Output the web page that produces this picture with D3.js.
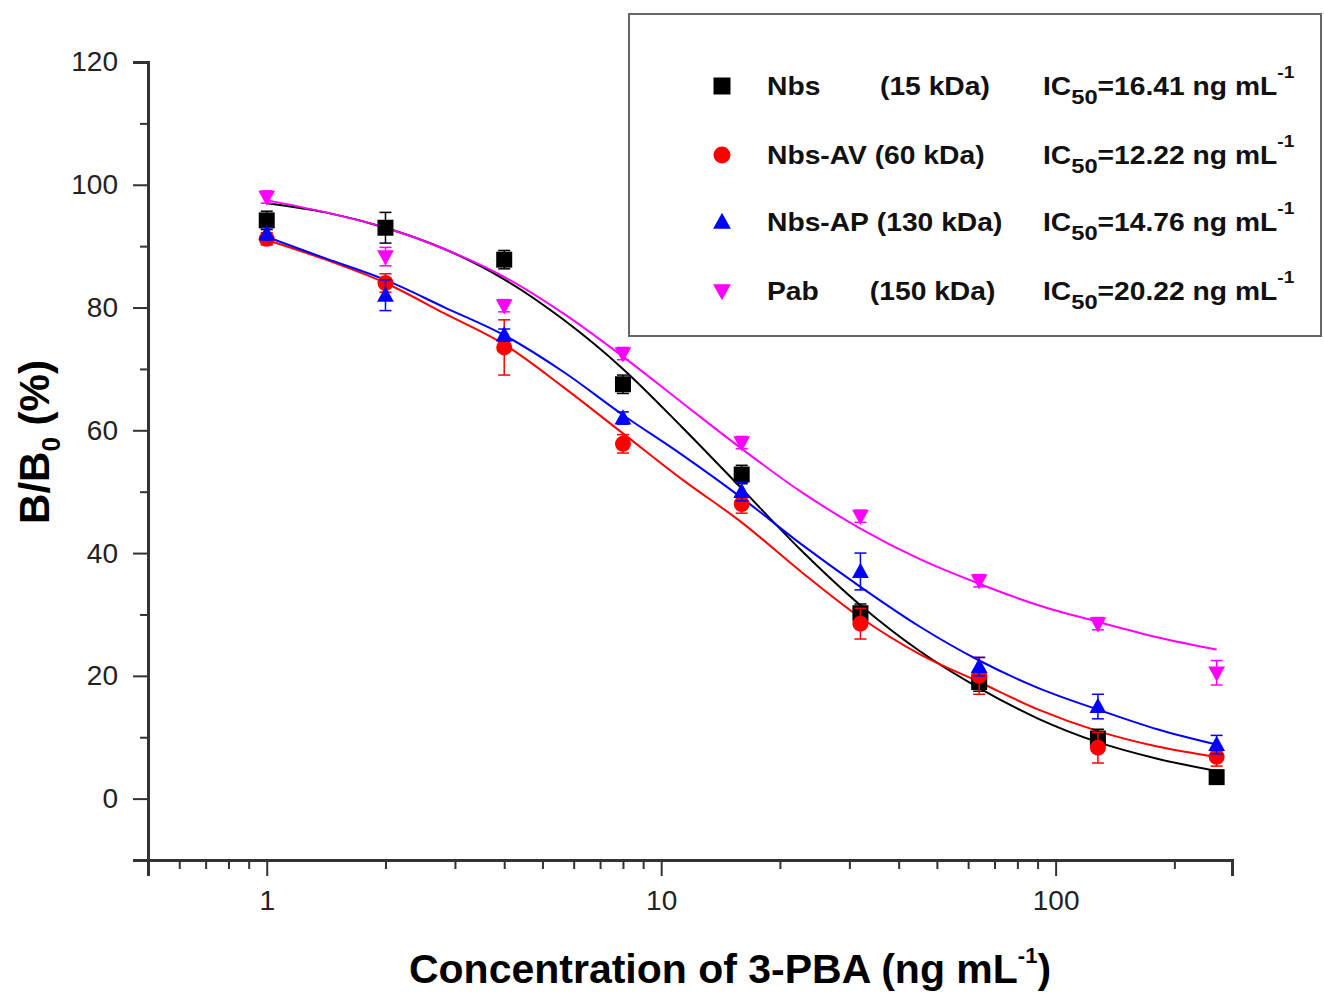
<!DOCTYPE html>
<html lang="en">
<head>
<meta charset="UTF-8">
<title>B/B0 curves</title>
<script src="https://d3js.org/d3.v7.min.js"></script>
<style>
    body { margin: 0; background: #fff; }
    text { font-family: "Liberation Sans", Arial, sans-serif; }
    .curve { fill: none; stroke-width: 2; }
</style>
</head>
<body>
<script>
    // concentrations (ng/mL)
    var conc = [1, 2, 4, 8, 16, 32, 64, 128, 256];
    var names = ["Nbs", "Nbs-AV", "Nbs-AP", "Pab"];
    var kda = ["(15 kDa)", "(60 kDa)", "(130 kDa)", "(150 kDa)"];
    var ic50 = ["16.41", "12.22", "14.76", "20.22"];
    var colors = ["#000000", "#ff0000", "#0000ff", "#ff00ff"];
    var shapes = ["square", "circle", "triangle", "triangleDown"];

    // measured points (%)
    var nbs = [94.2, 93.0, 87.8, 67.5, 52.8, 30.2, 19.0, 9.8, 3.5];
    var nbsAV = [91.2, 84.0, 73.5, 57.8, 48.0, 28.5, 20.0, 8.3, 6.8];
    var nbsAP = [92.0, 82.0, 75.5, 62.0, 50.0, 37.0, 21.5, 15.0, 8.8];
    var pab = [98.0, 88.3, 80.3, 72.5, 58.0, 46.0, 35.5, 28.5, 20.5];
    // error bars
    var nbsErr = [1.5, 2.5, 1.5, 1.5, 1.5, 1.5, 1.5, 1.5, 1.0];
    var nbsAVErr = [1.0, 1.5, 4.5, 1.5, 1.5, 2.5, 3.0, 2.5, 1.5];
    var nbsAPErr = [1.0, 2.5, 1.0, 1.0, 1.5, 3.0, 1.5, 2.0, 1.5];
    var pabErr = [1.0, 1.5, 1.0, 1.0, 1.0, 1.0, 1.0, 1.0, 2.0];

    // fitted curves
    var fitX = [1, 1.41, 2, 2.83, 4, 5.66, 8, 11.3, 16, 22.6, 32, 45.3, 64, 90.5, 128, 181, 256];
    var nbsFit = [97, 95.5, 93, 89.5, 84.6, 78, 70, 60.5, 50.5, 40.5, 31.5, 24, 18, 13, 9.2, 6.5, 4.5];
    var nbsAVFit = [91, 87.8, 84, 79, 74, 67, 59.5, 52, 45, 37, 29.5, 23.5, 19, 14.5, 11, 8.5, 6.8];
    var nbsAPFit = [91.5, 88, 84.5, 80, 75.5, 69.5, 62.5, 56, 49, 41.5, 34.5, 28, 22.5, 18, 14.5, 11.3, 8.8];
    var pabFit = [97.5, 95.5, 93, 89.5, 85, 79, 72, 64.5, 57, 50, 44, 39, 35, 31.5, 28.8, 26.3, 24.3];

    var yMajor = [0, 20, 40, 60, 80, 100, 120];
    var yMinor = [10, 30, 50, 70, 90, 110];
    var xMajor = [1, 10, 100];
    var xMinor = [0.6, 0.7, 0.8, 0.9, 2, 3, 4, 5, 6, 7, 8, 9, 20, 30, 40, 50, 60, 70, 80, 90, 200];

    var series = [
        { pts: nbs, err: nbsErr, fit: nbsFit },
        { pts: nbsAV, err: nbsAVErr, fit: nbsAVFit },
        { pts: nbsAP, err: nbsAPErr, fit: nbsAPFit },
        { pts: pab, err: pabErr, fit: pabFit }
    ];

    var W = 1324, H = 994;
    var svg = d3.select("body").append("svg").attr("width", W).attr("height", H);

    var x = d3.scaleLog().domain([0.5, 280]).range([148, 1232]);
    var y = d3.scaleLinear().domain([-10, 120]).range([860, 62]);

    var axisColor = "#333";

    // y axis
    var gy = svg.append("g").attr("transform", "translate(148,0)");
    gy.call(d3.axisLeft(y).tickValues(yMajor).tickSize(15).tickPadding(15).tickFormat(d3.format("d")));
    gy.append("g").call(d3.axisLeft(y).tickValues(yMinor).tickSize(8).tickFormat(""));
    // x axis
    var gx = svg.append("g").attr("transform", "translate(0,860)");
    gx.call(d3.axisBottom(x).tickValues(xMajor).tickSize(16).tickPadding(14).tickFormat(d3.format("d")));
    gx.append("g").call(d3.axisBottom(x).tickValues(xMinor).tickSize(9).tickFormat(""));

    svg.selectAll(".domain").attr("stroke", axisColor).attr("stroke-width", 3);
    svg.selectAll(".tick line").attr("stroke", axisColor).attr("stroke-width", 2);
    svg.selectAll(".tick text").attr("font-size", 28).attr("fill", "#222")
        .attr("font-family", "'Liberation Sans', Arial, sans-serif");
    svg.selectAll("g > g > .domain").remove();

    // axis titles
    var yt = svg.append("text")
        .attr("transform", "translate(49,442) rotate(-90)")
        .attr("text-anchor", "middle")
        .attr("font-size", 42).attr("font-weight", "bold");
    yt.append("tspan").text("B/B");
    yt.append("tspan").text("0").attr("font-size", 26).attr("dy", 11);
    yt.append("tspan").text(" (%)").attr("dy", -11);

    var xt = svg.append("text")
        .attr("x", 730).attr("y", 983)
        .attr("text-anchor", "middle")
        .attr("font-size", 41).attr("font-weight", "bold");
    xt.append("tspan").text("Concentration of 3-PBA (ng mL");
    xt.append("tspan").text("-1").attr("font-size", 22).attr("dy", -20);
    xt.append("tspan").text(")").attr("dy", 20);

    // fitted curves
    var line = d3.line()
        .x(function (d) { return x(d[0]); })
        .y(function (d) { return y(d[1]); })
        .curve(d3.curveMonotoneX);

    series.forEach(function (s, i) {
        svg.append("path").attr("class", "curve")
            .attr("stroke", colors[i])
            .attr("d", line(fitX.map(function (v, k) { return [v, s.fit[k]]; })));
    });

    function markerPath(shape, size) {
        var h = size / 2;
        if (shape === "square") return "M" + (-h) + "," + (-h) + "h" + size + "v" + size + "h" + (-size) + "Z";
        if (shape === "circle") return d3.symbol(d3.symbolCircle, Math.PI * h * h)();
        if (shape === "triangle") return "M0," + (-h * 1.1) + "L" + (h * 1.05) + "," + (h * 0.8) + "L" + (-h * 1.05) + "," + (h * 0.8) + "Z";
        return "M0," + (h * 1.1) + "L" + (h * 1.05) + "," + (-h * 0.8) + "L" + (-h * 1.05) + "," + (-h * 0.8) + "Z";
    }

    // error bars and points
    series.forEach(function (s, i) {
        var g = svg.append("g");
        conc.forEach(function (c, k) {
            var cx = x(c), v = s.pts[k], e = s.err[k];
            g.append("line").attr("x1", cx).attr("x2", cx)
                .attr("y1", y(v - e)).attr("y2", y(v + e))
                .attr("stroke", colors[i]).attr("stroke-width", 1.5);
            [v - e, v + e].forEach(function (b) {
                g.append("line").attr("x1", cx - 6).attr("x2", cx + 6)
                    .attr("y1", y(b)).attr("y2", y(b))
                    .attr("stroke", colors[i]).attr("stroke-width", 1.5);
            });
            g.append("path")
                .attr("transform", "translate(" + cx + "," + y(v) + ")")
                .attr("d", markerPath(shapes[i], 16))
                .attr("fill", colors[i]);
        });
    });

    // legend
    var lg = svg.append("g");
    lg.append("rect").attr("x", 629).attr("y", 14).attr("width", 692).attr("height", 322)
        .attr("fill", "#fff").attr("stroke", "#666").attr("stroke-width", 2);
    var rowY = [86, 155, 222, 291];
    var stretch = "scale(1.13,1)";
    names.forEach(function (n, i) {
        var ry = rowY[i];
        lg.append("path").attr("transform", "translate(722," + ry + ")")
            .attr("d", markerPath(shapes[i], 17)).attr("fill", colors[i]);

        var t1 = lg.append("g").attr("transform", "translate(767," + (ry + 9) + ") " + stretch)
            .append("text").attr("font-size", 25).attr("font-weight", "bold").attr("fill", "#111");
        t1.append("tspan").attr("x", 0).text(n);
        if (i === 0) t1.append("tspan").attr("x", 100).text(kda[i]);
        else if (i === 3) t1.append("tspan").attr("x", 91).text(kda[i]);
        else t1.append("tspan").text(" " + kda[i]);

        var it = lg.append("g").attr("transform", "translate(1043," + (ry + 9) + ") " + stretch)
            .append("text").attr("font-size", 25).attr("font-weight", "bold").attr("fill", "#111");
        it.append("tspan").text("IC");
        it.append("tspan").text("50").attr("font-size", 21).attr("dy", 9);
        it.append("tspan").text("=" + ic50[i] + " ng mL").attr("dy", -9);
        it.append("tspan").text("-1").attr("font-size", 17).attr("dy", -17);
    });
</script>
</body>
</html>
